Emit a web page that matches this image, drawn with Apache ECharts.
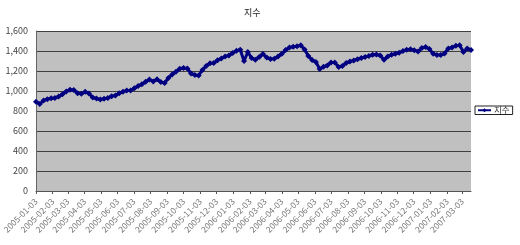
<!DOCTYPE html>
<html>
<head>
<meta charset="utf-8">
<script src="https://cdn.jsdelivr.net/npm/echarts@6/dist/echarts.min.js"></script>
<style>
html,body{margin:0;padding:0;background:#fff;}
#c{width:520px;height:245px;}
</style>
</head>
<body>
<div id="c"></div>
<script>
const chartTitle = '지수';
const seriesName = '지수';
const startDate = '2005-01-03';
const stepDays = 7;
const axisEndDate = '2007-03-19';
const tickLabels = [
  '2005-01-03','2005-02-03','2005-03-03','2005-04-03','2005-05-03','2005-06-03','2005-07-03',
  '2005-08-03','2005-09-03','2005-10-03','2005-11-03','2005-12-03','2006-01-03','2006-02-03',
  '2006-03-03','2006-04-03','2006-05-03','2006-06-03','2006-07-03','2006-08-03','2006-09-03',
  '2006-10-03','2006-11-03','2006-12-03','2007-01-03','2007-02-03','2007-03-03'
];
const values = [
  893,870,905,918,927,930,945,968,995,1012,
  1010,978,972,993,975,935,925,915,922,930,
  948,955,978,993,1005,1005,1028,1050,1068,1093,
  1115,1095,1117,1090,1080,1130,1165,1192,1222,1230,
  1225,1175,1160,1155,1210,1250,1277,1280,1308,1325,
  1345,1355,1380,1402,1412,1300,1390,1330,1312,1340,
  1370,1335,1320,1322,1345,1372,1410,1435,1443,1448,
  1458,1415,1350,1310,1290,1220,1243,1255,1285,1285,
  1240,1250,1280,1295,1305,1318,1330,1340,1350,1362,
  1365,1355,1312,1345,1362,1372,1382,1400,1412,1417,
  1408,1395,1430,1440,1420,1372,1360,1360,1375,1425,
  1435,1452,1458,1390,1425,1410
];

const DAY = 86400000;
function ts(s){ const p = s.split('-'); return Date.UTC(+p[0], +p[1]-1, +p[2]); }
function fmtDate(v){
  const d = new Date(v);
  const m = d.getUTCMonth()+1, dd = d.getUTCDate();
  return d.getUTCFullYear()+'-'+(m<10?'0':'')+m+'-'+(dd<10?'0':'')+dd;
}
// calendar days of the axis (category axis, one per day)
const dayCategories = [];
for (let t = ts(startDate); t <= ts(axisEndDate); t += DAY) dayCategories.push(fmtDate(t));
const t0 = ts(startDate);
const seriesData = values.map((v,i)=>[fmtDate(t0 + i*stepDays*DAY), v]);
const tickSet = new Set(tickLabels);
const isTick = function(idx, val){ return tickSet.has(val); };

const chart = echarts.init(document.getElementById('c'), null, {renderer:'canvas'});
chart.setOption({
  animation:false,
  textStyle:{fontFamily:'"Noto Sans CJK KR", "DejaVu Sans", sans-serif'},
  title:{
    text:chartTitle, left:239, top:3,
    textStyle:{fontSize:9, fontWeight:'normal', color:'#222', fontFamily:'"Noto Sans CJK KR", sans-serif'}
  },
  legend:{
    data:[seriesName], left:475, top:106, orient:'vertical',
    padding:[0,3,0,2], borderColor:'#222', borderWidth:1, backgroundColor:'#fff',
    itemWidth:13, itemHeight:5, itemGap:0,
    textStyle:{fontSize:8.5, color:'#333', padding:[0,0,0,-2]}
  },
  grid:{left:35, right:49, top:31, bottom:54, show:true, backgroundColor:'#c0c0c0', borderWidth:0},
  xAxis:{
    type:'category', data:dayCategories, boundaryGap:false,
    axisLine:{show:true, lineStyle:{color:'#555', width:1}},
    axisTick:{show:true, interval:isTick, length:3, lineStyle:{color:'#555'}},
    axisLabel:{interval:isTick, rotate:45, fontSize:8.5, color:'#777', margin:9},
    splitLine:{show:false}
  },
  yAxis:{
    type:'value', min:0, max:1600, interval:200,
    axisLine:{show:true, lineStyle:{color:'#666', width:1}},
    axisTick:{show:false},
    axisLabel:{fontSize:9, color:'#444', margin:8,
      formatter:function(v){ return v.toLocaleString('en-US'); }},
    splitLine:{show:true, lineStyle:{color:'#404040', width:1}}
  },
  series:[{
    name:seriesName, type:'line', data:seriesData,
    symbol:'diamond', symbolSize:6, showAllSymbol:true,
    lineStyle:{color:'#000080', width:3},
    itemStyle:{color:'#000080', borderWidth:0}
  }]
});
</script>
</body>
</html>
